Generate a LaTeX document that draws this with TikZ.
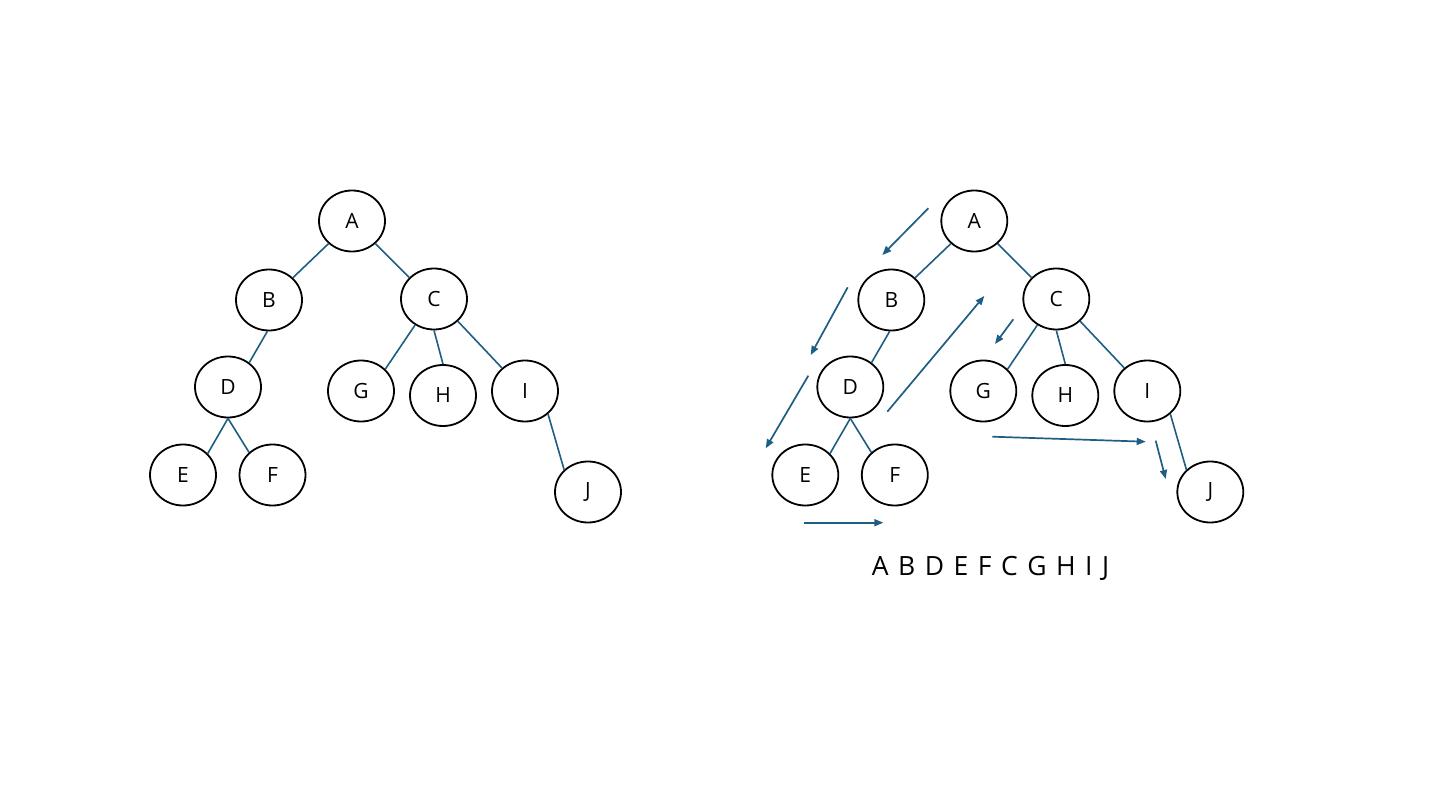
\documentclass[tikz,border=0pt]{standalone}
\usepackage{fontspec}
\setmainfont{Open Sans}
\usetikzlibrary{shapes.geometric,arrows.meta}
\definecolor{edgeblue}{RGB}{30,94,130}
\begin{document}
\begin{tikzpicture}[x=1pt,y=-1pt,
  tnode/.style={ellipse,draw=black,line width=1.8pt,minimum width=66pt,minimum height=61pt,inner sep=0pt,font=\fontsize{21}{25}\selectfont},
  tedge/.style={draw=edgeblue,line width=1.6pt},
  tarrow/.style={draw=edgeblue,line width=1.7pt,-{Triangle[length=9pt,width=7pt]},fill=edgeblue}]
\useasboundingbox (0,0) rectangle (1440,810);
% left tree
\node[tnode] (A) at (352,221) {A};
\node[tnode] (B) at (269,300) {B};
\node[tnode] (C) at (434,299) {C};
\node[tnode] (D) at (228,387) {D};
\node[tnode] (G) at (361,391) {G};
\node[tnode] (H) at (443,395.5) {H};
\node[tnode] (I) at (525,391) {I};
\node[tnode] (E) at (183,475) {E};
\node[tnode] (F) at (272.5,475) {F};
\node[tnode] (J) at (588,492) {J};
% right tree
\begin{scope}[xshift=622.3pt]
\node[tnode] (A2) at (352,221) {A};
\node[tnode] (B2) at (269,300) {B};
\node[tnode] (C2) at (434,299) {C};
\node[tnode] (D2) at (228,387) {D};
\node[tnode] (G2) at (361,391) {G};
\node[tnode] (H2) at (443,395.5) {H};
\node[tnode] (I2) at (525,391) {I};
\node[tnode] (E2) at (183,475) {E};
\node[tnode] (F2) at (272.5,475) {F};
\node[tnode] (J2) at (588,492) {J};
\end{scope}
\foreach \s in {,2} {
  \draw[tedge] (A\s.224.7) -- (B\s.43.3);
  \draw[tedge] (A\s.316.7) -- (C\s.139.2);
  \draw[tedge] (B\s.267.7) -- (D\s.49.9);
  \draw[tedge] (C\s.234.6) -- (G\s.42.4);
  \draw[tedge] (C\s.south) -- (H\s.north);
  \draw[tedge] (C\s.317) -- (I\s.135.9);
  \draw[tedge] (D\s.south) -- (E\s.41.5);
  \draw[tedge] (D\s.south) -- (F\s.136.1);
  \draw[tedge] (I\s.315.8) -- (J\s.137.1);
}
% traversal arrows
\coordinate (s1) at (928.3,208.3); \coordinate (e1) at (882.3,255);
\coordinate (s2) at (847.7,287.3); \coordinate (e2) at (810.7,355);
\coordinate (s3) at (808.3,375.7); \coordinate (e3) at (765.7,448.3);
\coordinate (s4) at (804.3,522.7); \coordinate (e4) at (883.3,522.7);
\coordinate (s5) at (887.3,411.7); \coordinate (e5) at (984.3,296);
\coordinate (s6) at (1013.3,319.3); \coordinate (e6) at (995,344);
\coordinate (s7) at (992.3,436.7); \coordinate (e7) at (1145.7,441.7);
\coordinate (s8) at (1155.7,440.7); \coordinate (e8) at (1165.7,479);
\foreach \i in {1,...,8} {\draw[tarrow] (s\i) -- (e\i);}
\node[font=\fontsize{26.5}{30}\selectfont] (order) at (990.5,568) {\spaceskip=9.5pt\relax A B D E F C G H I J};
\end{tikzpicture}
\end{document}
